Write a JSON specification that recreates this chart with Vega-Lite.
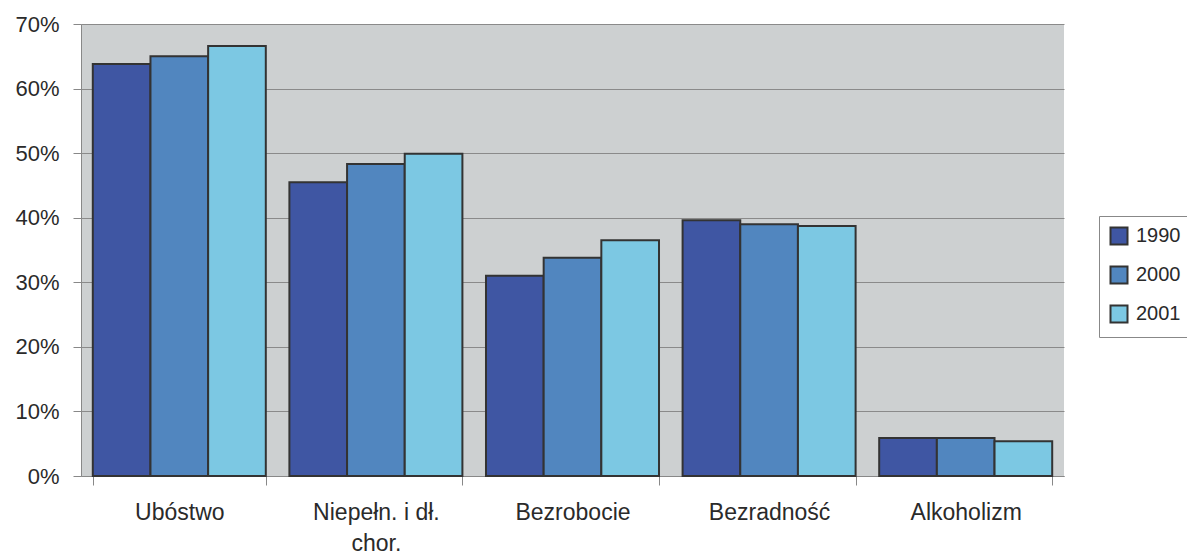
{
  "$schema": "https://vega.github.io/schema/vega-lite/v6.json",
  "width": 983,
  "height": 452,
  "autosize": "none",
  "padding": {"left": 81, "top": 24, "right": 123, "bottom": 80},
  "background": "white",
  "config": {
    "view": {"fill": "#CDD0D1", "stroke": null},
    "font": "Liberation Sans",
    "axis": {"labelFont": "Liberation Sans", "labelColor": "#2a2a2a", "domainColor": "#888", "tickColor": "#888", "gridColor": "#8a8a8a", "gridWidth": 1, "domainWidth": 1, "tickWidth": 1}
  },
  "data": {
    "values": [
      {"cat": "Ubóstwo", "year": "1990", "v": 0.638},
      {"cat": "Ubóstwo", "year": "2000", "v": 0.650},
      {"cat": "Ubóstwo", "year": "2001", "v": 0.666},
      {"cat": "Niepełn. i dł. chor.", "year": "1990", "v": 0.455},
      {"cat": "Niepełn. i dł. chor.", "year": "2000", "v": 0.483},
      {"cat": "Niepełn. i dł. chor.", "year": "2001", "v": 0.499},
      {"cat": "Bezrobocie", "year": "1990", "v": 0.310},
      {"cat": "Bezrobocie", "year": "2000", "v": 0.338},
      {"cat": "Bezrobocie", "year": "2001", "v": 0.365},
      {"cat": "Bezradność", "year": "1990", "v": 0.396},
      {"cat": "Bezradność", "year": "2000", "v": 0.390},
      {"cat": "Bezradność", "year": "2001", "v": 0.387},
      {"cat": "Alkoholizm", "year": "1990", "v": 0.059},
      {"cat": "Alkoholizm", "year": "2000", "v": 0.059},
      {"cat": "Alkoholizm", "year": "2001", "v": 0.054}
    ]
  },
  "mark": {"type": "bar", "stroke": "#333333", "strokeWidth": 2, "strokeOpacity": 1},
  "encoding": {
    "x": {
      "field": "cat", "type": "nominal", "sort": null, "title": null,
      "scale": {"paddingInner": 0.12, "paddingOuter": 0.06},
      "axis": {"labelAngle": 0, "tickBand": "extent", "tickSize": 9, "labelPadding": 16, "labelFontSize": 23, "labelLineHeight": 31,
        "labelExpr": "datum.label == 'Niepełn. i dł. chor.' ? ['Niepełn. i dł.', 'chor.'] : datum.label"}
    },
    "xOffset": {"field": "year", "type": "nominal", "scale": {"paddingInner": 0, "paddingOuter": 0}},
    "y": {
      "field": "v", "type": "quantitative", "title": null,
      "scale": {"domain": [0, 0.7], "nice": false},
      "axis": {"format": ".0%", "values": [0, 0.1, 0.2, 0.3, 0.4, 0.5, 0.6, 0.7], "tickSize": 8, "labelPadding": 14, "labelFontSize": 22, "grid": true}
    },
    "color": {
      "field": "year", "type": "nominal", "title": null,
      "scale": {"domain": ["1990", "2000", "2001"], "range": ["#3F56A3", "#5186BF", "#7CC8E3"]},
      "legend": {
        "orient": "none", "legendX": 1018, "legendY": 192,
        "symbolType": "square", "symbolSize": 289, "symbolStrokeColor": "#333333", "symbolStrokeWidth": 2,
        "labelFontSize": 20, "labelFont": "Liberation Sans", "labelColor": "#2a2a2a",
        "rowPadding": 13, "padding": 10, "strokeColor": "#888888", "labelOffset": 7
      }
    }
  }
}
